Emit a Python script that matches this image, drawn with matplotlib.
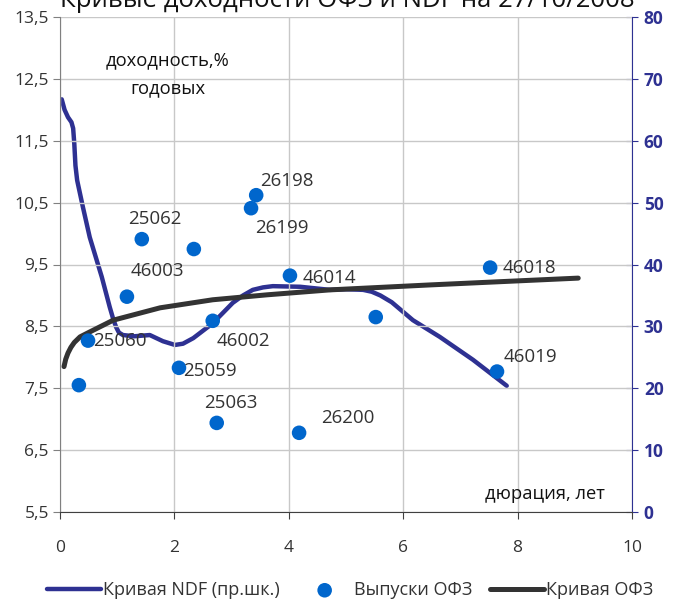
import matplotlib
matplotlib.use("Agg")
import matplotlib.pyplot as plt
from matplotlib.ticker import FuncFormatter

plt.rcParams['font.family'] = ['Open Sans', 'DejaVu Sans']

# --- data ---
bond_names = ["", "25060", "46003", "25062", "", "25059", "46002", "25063",
              "26199", "26198", "46014", "26200", "", "46018", "46019"]
bond_dur = [0.33, 0.49, 1.17, 1.43, 2.34, 2.08, 2.67, 2.74,
            3.34, 3.43, 4.02, 4.18, 5.52, 7.52, 7.64]
bond_yld = [7.55, 8.27, 8.98, 9.91, 9.75, 7.83, 8.59, 6.94,
            10.41, 10.62, 9.32, 6.78, 8.65, 9.45, 7.77]

ofz_curve_x = [0.07, 0.10, 0.14, 0.19, 0.25, 0.35, 0.52, 0.93, 1.75, 2.67, 3.62, 4.72, 6.47, 7.64, 9.06]
ofz_curve_y = [7.85, 7.97, 8.07, 8.16, 8.24, 8.33, 8.41, 8.60, 8.80, 8.93, 9.01, 9.09, 9.17, 9.22, 9.28]

ndf_x = [0.03, 0.08, 0.14, 0.20, 0.23, 0.25, 0.27, 0.30, 0.40, 0.52, 0.73, 0.87, 0.93,
         0.98, 1.03, 1.10, 1.30, 1.57, 1.80, 2.01, 2.15, 2.33, 2.67, 3.02, 3.20, 3.37,
         3.55, 3.72, 4.20, 4.72, 5.00, 5.30, 5.45, 5.60, 5.80, 6.17, 6.64, 7.22, 7.81]
ndf_y = [66.7, 65.0, 63.8, 63.0, 62.0, 59.5, 56.0, 53.6, 49.3, 44.4, 38.0, 33.1, 31.2,
         29.9, 29.0, 28.6, 28.4, 28.6, 27.6, 27.0, 27.2, 28.1, 30.5, 33.8, 35.0, 35.9,
         36.3, 36.5, 36.4, 35.9, 36.0, 35.9, 35.6, 35.0, 33.9, 31.0, 28.3, 24.6, 20.4]

x_ticks = [0, 2, 4, 6, 8, 10]
y_ticks = [5.5, 6.5, 7.5, 8.5, 9.5, 10.5, 11.5, 12.5, 13.5]
y2_ticks = [0, 10, 20, 30, 40, 50, 60, 70, 80]

title = "Кривые доходности ОФЗ и NDF на 27/10/2008"

# label offsets (points) per bond: (dx, dy, ha, va)
label_off = {
    "25060": (4, 0, 'left', 'center'),
    "46003": (3, 12, 'left', 'bottom'),
    "25062": (-10, 8, 'left', 'bottom'),
    "25059": (3, -2, 'left', 'center'),
    "46002": (3, -8, 'left', 'top'),
    "25063": (-9, 8, 'left', 'bottom'),
    "26199": (3, -8, 'left', 'top'),
    "26198": (3, 4, 'left', 'bottom'),
    "46014": (9, -2, 'left', 'center'),
    "26200": (16, 4, 'left', 'bottom'),
    "46018": (9, 0, 'left', 'center'),
    "46019": (5, 4, 'left', 'bottom'),
}

NAVY = '#2E3192'
BLUE = '#0066CC'
DARK = '#333333'

fig = plt.figure(figsize=(6.76, 5.99), dpi=100)
ax = fig.add_axes([60/676, 1 - 512/599, (632-60)/676, (512-17)/599])
ax2 = ax.twinx()

ax.set_xlim(0, 10)
ax.set_ylim(5.5, 13.5)
ax2.set_ylim(0, 80)
ax.set_xticks(x_ticks)
ax.set_yticks(y_ticks)
ax2.set_yticks(y2_ticks)
ax.yaxis.set_major_formatter(FuncFormatter(lambda v, p: f"{v:.1f}".replace('.', ',')))
ax.grid(True, color='#C8C8C8', lw=1)
ax.set_axisbelow(True)

for s in ['top']:
    ax.spines[s].set_visible(False)
    ax2.spines[s].set_visible(False)
ax.spines['left'].set_color('#808080')
ax.spines['bottom'].set_color('#404040')
ax2.spines['left'].set_visible(False)
ax2.spines['bottom'].set_visible(False)
ax.spines['right'].set_visible(False)
ax2.spines['right'].set_color(NAVY)

ax.tick_params(axis='y', direction='out', length=5, color='#808080', labelsize=12.5,
               labelcolor='#333333', pad=3)
ax.tick_params(axis='x', direction='out', length=5, color='#404040', labelsize=12.5,
               labelcolor='#333333', pad=15)
ax2.tick_params(axis='y', direction='inout', length=9, color=NAVY, labelsize=12.5,
                labelcolor=NAVY, pad=4)
for t in ax2.get_yticklabels():
    t.set_fontweight('bold')

ax.set_zorder(ax2.get_zorder() + 1)
ax.patch.set_visible(False)

# NDF on right axis
l_ndf, = ax2.plot(ndf_x, ndf_y, color=NAVY, lw=3.2, solid_capstyle='round',
                  solid_joinstyle='round', label='Кривая NDF (пр.шк.)')
sc = ax.scatter(bond_dur, bond_yld, s=110, color=BLUE, zorder=4, label='Выпуски ОФЗ',
                edgecolors='none')
l_ofz, = ax.plot(ofz_curve_x, ofz_curve_y, color=DARK, lw=3.6, solid_capstyle='round',
                 solid_joinstyle='round', label='Кривая ОФЗ', zorder=3)

for name, x, y in zip(bond_names, bond_dur, bond_yld):
    if not name:
        continue
    dx, dy, ha, va = label_off[name]
    ax.annotate(name, (x, y), xytext=(dx, dy), textcoords='offset points',
                ha=ha, va=va, fontsize=13.5, color='#333333', zorder=5)

fig.text(168/676, 1 - 60/599, "доходность,%", ha='center', va='center', fontsize=13.2,
         color='#111111')
fig.text(168/676, 1 - 88/599, "годовых", ha='center', va='center', fontsize=13.2,
         color='#111111')
fig.text(605/676, 1 - 494/599, "дюрация, лет", ha='right', va='center', fontsize=13.2,
         color='#111111')

fig.text(347/676, 1 - 7/599, title, ha='center', va='baseline', fontsize=18.5,
         color='#111111')

leg = fig.legend(handles=[l_ndf, sc, l_ofz], loc='center', bbox_to_anchor=(350/676, 1 - 590/599),
                 ncol=3, frameon=False, fontsize=13, handlelength=3.0, handletextpad=0.1,
                 columnspacing=1.0, borderaxespad=0)
for t in leg.get_texts():
    t.set_color('#333333')

fig.savefig('out.png', dpi=100)
